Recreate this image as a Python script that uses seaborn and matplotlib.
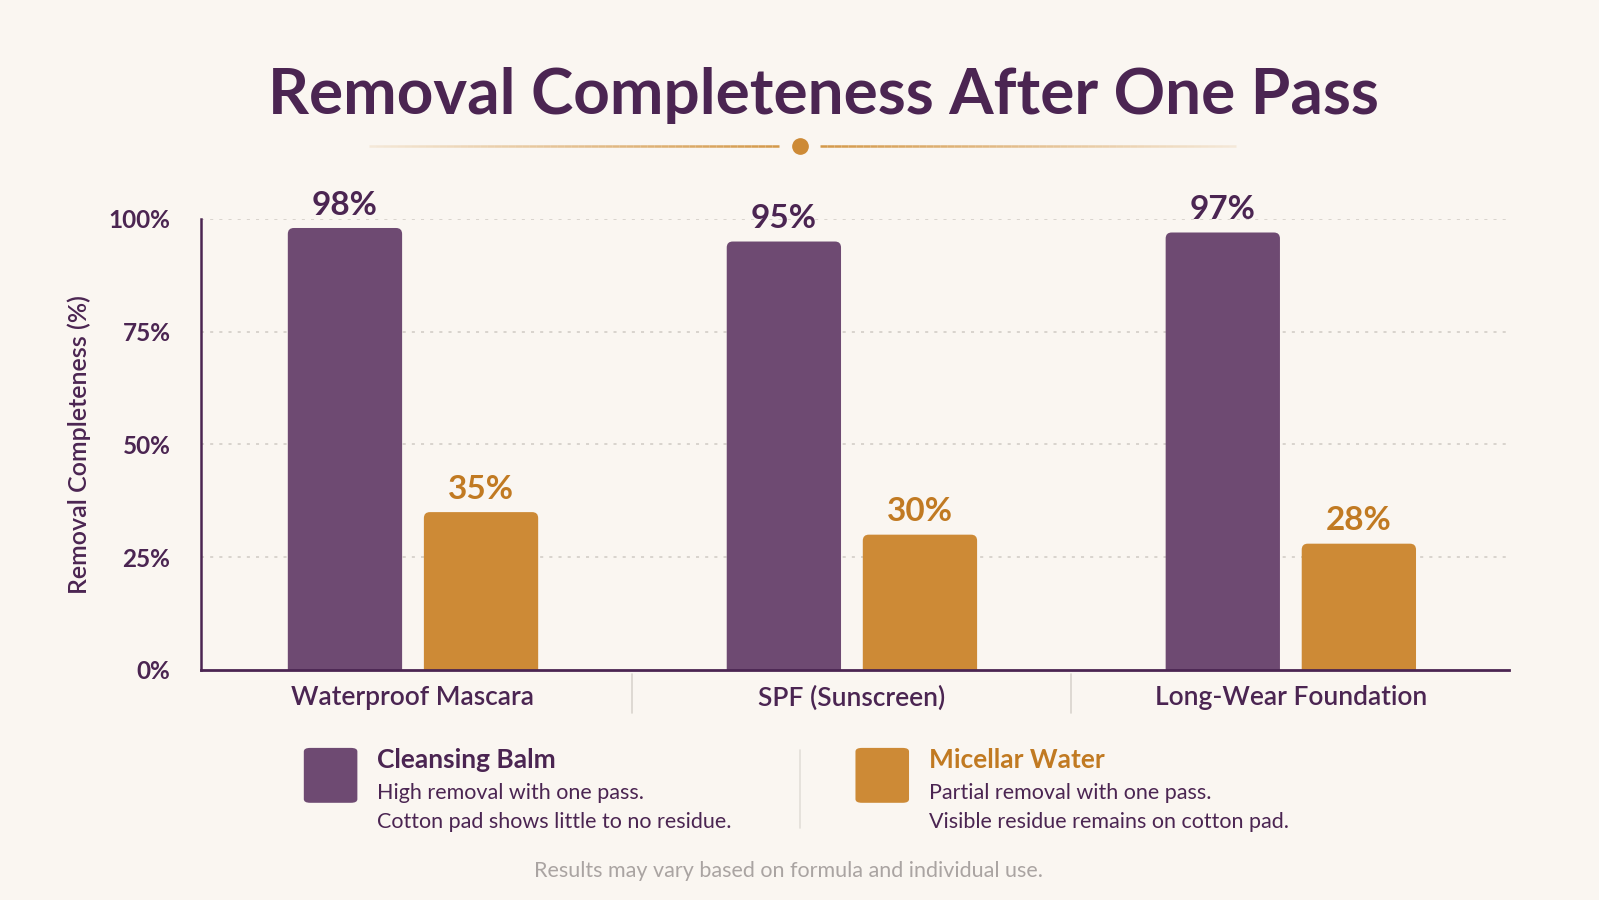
import numpy as np
import pandas as pd
import matplotlib.pyplot as plt
import seaborn as sns
from matplotlib.patches import FancyBboxPatch
from matplotlib.lines import Line2D
from matplotlib.collections import LineCollection
import matplotlib.transforms as mtransforms

# ----------------------------
# Data
# ----------------------------
categories = ["Waterproof Mascara", "SPF (Sunscreen)", "Long-Wear Foundation"]
products = ["Cleansing Balm", "Micellar Water"]
balm_values = [98, 95, 97]
micellar_values = [35, 30, 28]
y_ticks = [0, 25, 50, 75, 100]
legend_notes = {
    "Cleansing Balm": ["High removal with one pass.", "Cotton pad shows little to no residue."],
    "Micellar Water": ["Partial removal with one pass.", "Visible residue remains on cotton pad."],
}
footer = "Results may vary based on formula and individual use."

# ----------------------------
# Style
# ----------------------------
BG = "#faf6f1"
PURPLE = "#6e4a72"
ORANGE = "#cd8a36"
DARK = "#4b2552"
LABEL_ORANGE = "#c17a22"
GRID = "#cfcac4"

sns.set_theme(style="white")
plt.rcParams["font.family"] = ["Lato", "DejaVu Sans"]

df = pd.DataFrame({
    "category": categories * 2,
    "product": [products[0]] * 3 + [products[1]] * 3,
    "value": balm_values + micellar_values,
})

fig = plt.figure(figsize=(15.99, 9), dpi=100, facecolor=BG)
ax = fig.add_axes([0.1257, 0.2556, 0.818, 0.5011])
ax.set_facecolor(BG)

sns.barplot(data=df, x="category", y="value", hue="product",
            palette=[PURPLE, ORANGE], width=0.62, gap=0.16,
            saturation=1, legend=False, ax=ax, zorder=3)

ax.set_ylim(0, 100)
ax.set_xlim(-0.483, 2.497)

# swap the plain rectangles for ones with softly rounded corners
x_per_px = 2.98 / (0.818 * 1599)
y_per_px = 100 / (0.5011 * 900)
for container in ax.containers:
    for rect in container.patches:
        x, w, h = rect.get_x(), rect.get_width(), rect.get_height()
        rect.set_visible(False)
        ax.add_patch(FancyBboxPatch((x, -3), w, h + 3,
                                    boxstyle=f"round,pad=0,rounding_size={6 * x_per_px:.4f}",
                                    mutation_aspect=y_per_px / x_per_px,
                                    facecolor=rect.get_facecolor(), edgecolor="none", zorder=3))

ax.set_yticks(y_ticks)
ax.set_yticklabels([f"{t}%" for t in y_ticks], fontsize=17.5, color=DARK, fontweight="bold")
ax.set_xticks(range(len(categories)))
ax.set_xticklabels(categories, fontsize=19, color=DARK, fontweight="semibold")
ax.tick_params(axis="x", length=0, pad=11)
ax.tick_params(axis="y", length=10, width=1.5, color=DARK, pad=12)
ax.set_xlabel("")
ax.set_ylabel("Removal Completeness (%)", fontsize=18, color=DARK, fontweight="semibold", labelpad=13)

for t in [25, 50, 75, 100]:
    ax.axhline(t, color=GRID, lw=1.1, ls=(0, (2, 4)), zorder=1)

for s in ["top", "right"]:
    ax.spines[s].set_visible(False)
ax.spines["left"].set_color(DARK)
ax.spines["left"].set_linewidth(1.8)
ax.spines["bottom"].set_color(DARK)
ax.spines["bottom"].set_linewidth(2)
ax.spines["bottom"].set_zorder(4)

# value labels
for container, color in zip(ax.containers, [DARK, LABEL_ORANGE]):
    ax.bar_label(container, labels=[f"{v:.0f}%" for v in container.datavalues],
                 padding=6, fontsize=24, fontweight="bold", color=color)

# category separators below the axis
trans = mtransforms.blended_transform_factory(ax.transData, ax.transAxes)
for xs in [0.5, 1.5]:
    ax.add_line(Line2D([xs, xs], [-0.01, -0.095], transform=trans, color="#d9d4ce",
                       lw=1.2, clip_on=False))

# ----------------------------
# Title and ornament
# ----------------------------
fig.text(0.515, 0.894, "Removal Completeness After One Pass", ha="center", va="center",
         fontsize=46, fontweight="bold", color=DARK)

def fading_line(x0, x1, y, fade_left):
    xs = np.linspace(x0, x1, 60)
    segs = [[(xs[i], y), (xs[i + 1], y)] for i in range(len(xs) - 1)]
    ramp = np.linspace(0.15, 1, len(segs))
    if not fade_left:
        ramp = ramp[::-1]
    cols = [(0.83, 0.60, 0.29, a) for a in ramp]
    fig.add_artist(LineCollection(segs, colors=cols, linewidths=1.8, transform=fig.transFigure))

fading_line(0.231, 0.487, 0.838, True)
fading_line(0.513, 0.773, 0.838, False)
fig.add_artist(Line2D([0.5003], [0.838], marker="o", markersize=11, color=ORANGE,
                      transform=fig.transFigure))

# ----------------------------
# Legend
# ----------------------------
def legend_item(x_box, x_text, color, title_color, name):
    fig.add_artist(FancyBboxPatch((x_box, 0.108), 0.0335, 0.061,
                                  boxstyle="round,pad=0,rounding_size=0.004",
                                  transform=fig.transFigure, facecolor=color, edgecolor="none"))
    fig.text(x_text, 0.155, name, fontsize=19, fontweight="bold", color=title_color, va="center")
    for i, line in enumerate(legend_notes[name]):
        fig.text(x_text, 0.119 - i * 0.0325, line, fontsize=15.5, color=DARK, va="center")

legend_item(0.190, 0.236, PURPLE, DARK, "Cleansing Balm")
legend_item(0.535, 0.581, ORANGE, LABEL_ORANGE, "Micellar Water")
fig.add_artist(Line2D([0.5, 0.5], [0.08, 0.167], color="#e3ded8", lw=1.2,
                      transform=fig.transFigure))

fig.text(0.493, 0.032, footer, ha="center", va="center", fontsize=15.5, color="#aaa4a2")

fig.savefig("out.png", dpi=100, facecolor=BG)
